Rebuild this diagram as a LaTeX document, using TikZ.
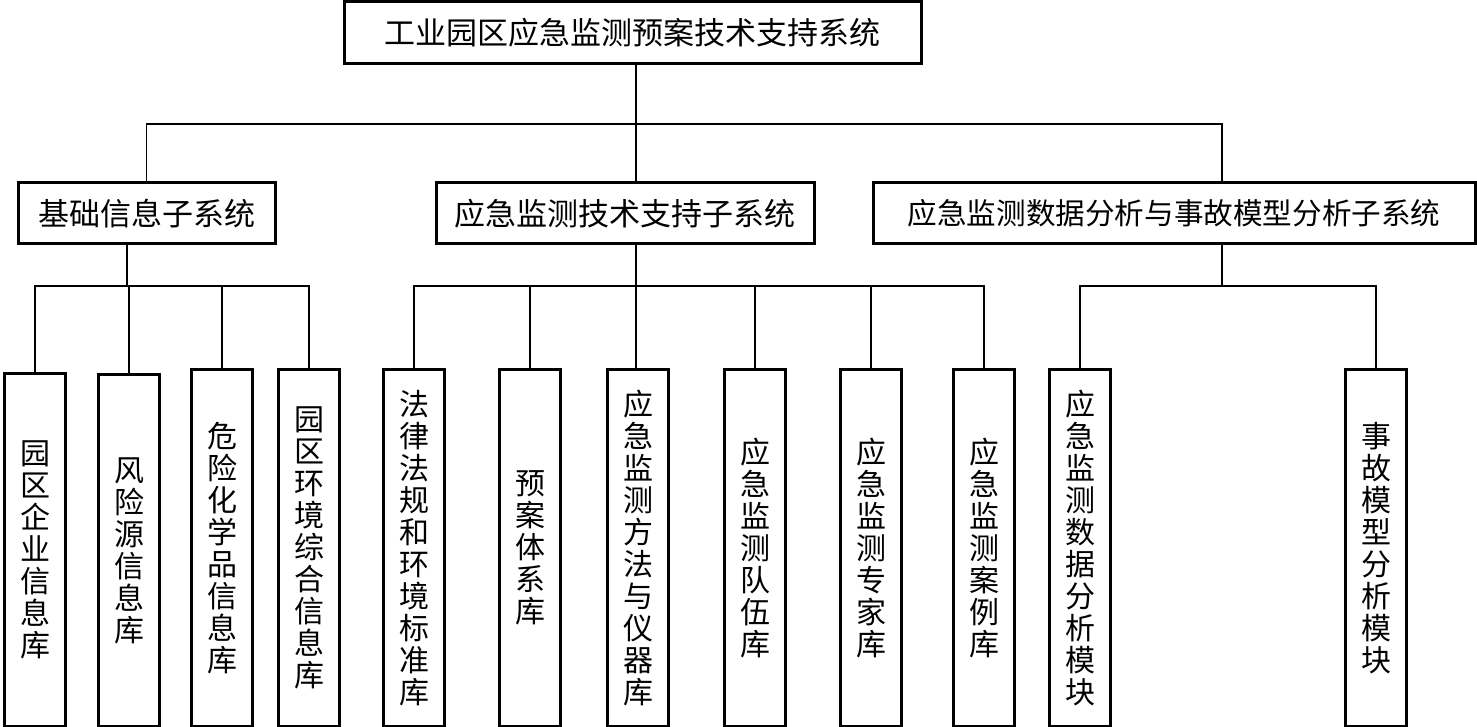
\documentclass[tikz,border=0pt]{standalone}
\usepackage{fontspec}
\newfontfamily\cjk{Noto Sans CJK SC}
\usetikzlibrary{positioning}

\tikzset{
  sysbox/.style={draw, line width=1.5pt, inner sep=0pt, font=\cjk\fontsize{15.5}{18}\selectfont},
  subbox/.style={sysbox, minimum height=30.5pt},
  leafbox/.style={draw, line width=1.5pt, inner sep=0pt, minimum width=30.5pt, align=center,
    anchor=north west, font=\cjk\fontsize{15}{16}\selectfont},
  link/.style={line width=0.75pt}
}

\begin{document}
\begin{tikzpicture}[x=0.5pt, y=-0.5pt]
  \useasboundingbox (0,0) rectangle (1477,727);

  % 总系统
  \node[sysbox, minimum width=288.5pt, minimum height=31pt] (sys) at (632.5,33) {工业园区应急监测预案技术支持系统};

  % 子系统
  \node[subbox, minimum width=128.5pt] (sub1) at (146.5,213.5) {基础信息子系统};
  \node[subbox, minimum width=189pt] (sub2) at (625,213.5) {应急监测技术支持子系统};
  \node[subbox, minimum width=301pt, font=\cjk\fontsize{14.8}{18}\selectfont] (sub3) at (1174,213.5) {应急监测数据分析与事故模型分析子系统};

  % 各个库与模块
  \foreach \n/\xl/\yt/\txt in {
      la/3/372/{园\\区\\企\\业\\信\\息\\库},
      lb/97/373/{风\\险\\源\\信\\息\\库},
      lc/190/368/{危\\险\\化\\学\\品\\信\\息\\库},
      ld/277/368/{园\\区\\环\\境\\综\\合\\信\\息\\库},
      le/382/368/{法\\律\\法\\规\\和\\环\\境\\标\\准\\库},
      lf/498/368/{预\\案\\体\\系\\库},
      lg/606/368/{应\\急\\监\\测\\方\\法\\与\\仪\\器\\库},
      lh/723/368/{应\\急\\监\\测\\队\\伍\\库},
      li/839/368/{应\\急\\监\\测\\专\\家\\库},
      lj/952/368/{应\\急\\监\\测\\案\\例\\库},
      lk/1048/368/{应\\急\\监\\测\\数\\据\\分\\析\\模\\块},
      ll/1344/368/{事\\故\\模\\型\\分\\析\\模\\块}} {
    \node[leafbox, minimum height={(725-\yt)*0.5pt}] (\n) at (\xl,\yt) {\txt};
  }

  % 连线节点
  \coordinate (j0) at (636,124);
  \coordinate (j1) at (127,286);
  \coordinate (j2) at (636,286);
  \coordinate (j3) at (1222,286);

  % 第一层连线
  \draw[link] (sys.south -| j0) -- (sub2.north -| j0);
  \draw[link] (sub1.north) |- (j0) -| (sub3.north -| j3);

  % 基础信息子系统
  \draw[link] (sub1.south -| j1) -- (j1);
  \draw[link] (la.north) |- (ld.north |- j1) -- (ld.north);
  \foreach \n in {lb,lc} \draw[link] (\n.north) -- (\n.north |- j1);

  % 应急监测技术支持子系统
  \draw[link] (sub2.south -| j2) -- (lg.north -| j2);
  \draw[link] (le.north) |- (lj.north |- j2) -- (lj.north);
  \foreach \n in {lf,lh,li} \draw[link] (\n.north) -- (\n.north |- j2);

  % 数据分析与事故模型分析子系统
  \draw[link] (sub3.south -| j3) -- (j3);
  \draw[link] (lk.north) |- (ll.north |- j3) -- (ll.north);
\end{tikzpicture}
\end{document}
